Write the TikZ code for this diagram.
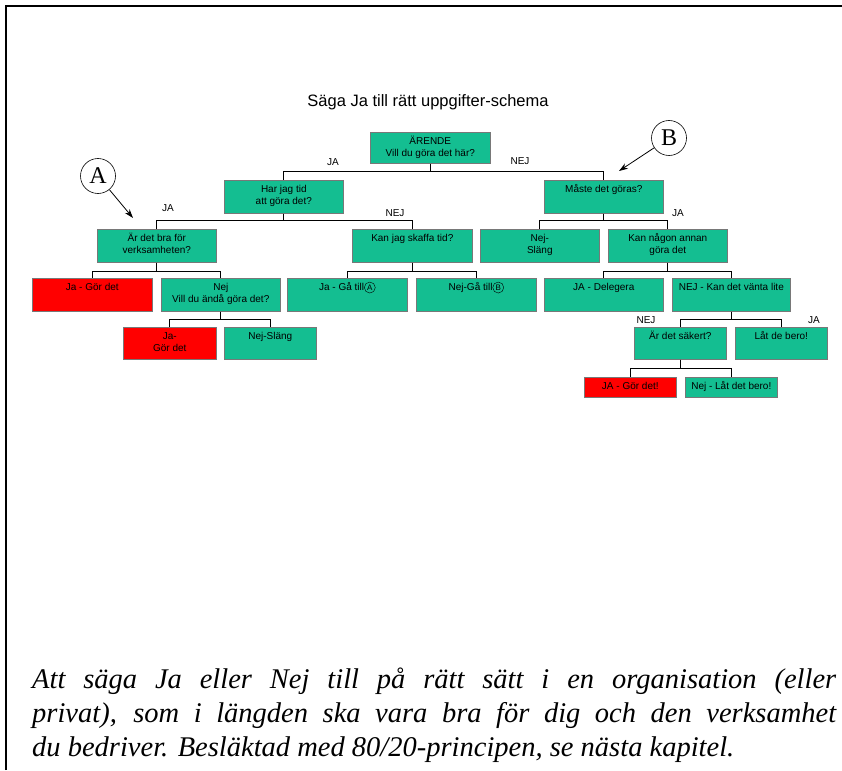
\documentclass[tikz,border=0pt]{standalone}
\usepackage{fontspec}
\setmainfont{Liberation Serif}
\setsansfont{Liberation Sans}
\usetikzlibrary{arrows.meta}

\definecolor{ppgreen}{RGB}{20,190,145}
\definecolor{ppred}{RGB}{255,0,0}
\definecolor{ppline}{RGB}{120,120,120}

% box text: width, height, text (set at the top of the box)
\newcommand{\boxtxt}[3]{\parbox[t][#2][t]{#1}{\centering\rule{0pt}{12pt}#3}}
% small ringed letter inside a box
\newcommand{\ringed}[1]{\tikz[baseline=(rl.base)]\node[draw, circle, minimum size=11pt, inner sep=0pt, font=\sffamily\fontsize{8}{8}\selectfont] (rl) {#1};}

\begin{document}
\begin{tikzpicture}[x=1pt, y=-1pt, font=\sffamily\fontsize{10}{12}\selectfont,
		box/.style={draw=ppline, line width=0.6pt, fill=ppgreen, inner sep=0pt, anchor=north west},
		redbox/.style={box, fill=ppred},
		tree/.style={line width=1pt},
		answer/.style={inner sep=0pt},
		marker/.style={draw, circle, line width=0.6pt, minimum size=35pt, inner sep=0pt, font=\rmfamily\fontsize{24}{24}\selectfont},
		pointer/.style={line width=0.8pt, -{Stealth[length=9pt, width=6pt]}},
		caption/.style={anchor=base west, inner sep=0pt, font=\rmfamily\itshape\fontsize{28.5}{34}\selectfont}]
		\useasboundingbox (0,0) rectangle (842,770);
		\draw[line width=2pt] (6,770) -- (6,6) -- (842,6);

		\node (title) at (428,102) {\fontsize{16.5}{18}\selectfont Säga Ja till rätt uppgifter-schema};

		\node[box] (arende) at (370,132) {\boxtxt{120pt}{31pt}{ÄRENDE\\Vill du göra det här?}};
		\node[box] (hartid) at (224,180) {\boxtxt{119pt}{33pt}{Har jag tid\\att göra det?}};
		\node[box] (maste) at (544,180) {\boxtxt{119pt}{33pt}{Måste det göras?}};
		\node[box] (bra) at (97,229) {\boxtxt{119pt}{33pt}{Är det bra för\\verksamheten?}};
		\node[box] (skaffa) at (352,229) {\boxtxt{120pt}{33pt}{Kan jag skaffa tid?}};
		\node[box] (slang) at (480,229) {\boxtxt{119pt}{33pt}{Nej-\\Släng}};
		\node[box] (annan) at (608,229) {\boxtxt{119pt}{33pt}{Kan någon annan\\göra det}};
		\node[redbox] (gordet) at (32,278) {\boxtxt{120pt}{33pt}{Ja - Gör det}};
		\node[box] (anda) at (161,278) {\boxtxt{119pt}{33pt}{Nej\\Vill du ändå göra det?}};
		\node[box] (tillA) at (287,278) {\boxtxt{120pt}{33pt}{Ja - Gå till\ringed{A}}};
		\node[box] (tillB) at (416,278) {\boxtxt{120pt}{33pt}{Nej-Gå till\ringed{B}}};
		\node[box] (delegera) at (544,278) {\boxtxt{119pt}{33pt}{JA - Delegera}};
		\node[box] (vanta) at (672,278) {\boxtxt{118pt}{33pt}{NEJ - Kan det vänta lite}};
		\node[redbox] (gordetB) at (123,327) {\boxtxt{93pt}{32pt}{Ja-\\Gör det}};
		\node[box] (slangB) at (224,327) {\boxtxt{92pt}{32pt}{Nej-Släng}};
		\node[box] (saker) at (634,327) {\boxtxt{92pt}{32pt}{Är det säkert?}};
		\node[box] (bero) at (735,327) {\boxtxt{92pt}{32pt}{Låt de bero!}};
		\node[redbox] (gordetC) at (584,377) {\boxtxt{92pt}{20pt}{JA - Gör det!}};
		\node[box] (latdet) at (685,377) {\boxtxt{92pt}{20pt}{Nej - Låt det bero!}};

		\draw[tree] (arende.south) -- ++(0,8) -| (hartid.north);
		\draw[tree] (arende.south) -- ++(0,8) -| (maste.north);
		\draw[tree] (hartid.south) -- ++(0,7) -| (bra.north);
		\draw[tree] (hartid.south) -- ++(0,7) -| (skaffa.north);
		\draw[tree] (maste.south) -- ++(0,7) -| (slang.north);
		\draw[tree] (maste.south) -- ++(0,7) -| (annan.north);
		\draw[tree] (bra.south) -- ++(0,9) -| (gordet.north);
		\draw[tree] (bra.south) -- ++(0,9) -| (anda.north);
		\draw[tree] (skaffa.south) -- ++(0,9) -| (tillA.north);
		\draw[tree] (skaffa.south) -- ++(0,9) -| (tillB.north);
		\draw[tree] (annan.south) -- ++(0,9) -| (delegera.north);
		\draw[tree] (annan.south) -- ++(0,9) -| (vanta.north);
		\draw[tree] (anda.south) -- ++(0,8) -| (gordetB.north);
		\draw[tree] (anda.south) -- ++(0,8) -| (slangB.north);
		\draw[tree] (vanta.south) -- ++(0,8) -| (saker.north);
		\draw[tree] (vanta.south) -- ++(0,8) -| (bero.north);
		\draw[tree] (saker.south) -- ++(0,9) -| (gordetC.north);
		\draw[tree] (saker.south) -- ++(0,9) -| (latdet.north);

		% answers on the branches
		\node[answer] (ja1) at (333,162) {JA};
		\node[answer] (nej1) at (520,161) {NEJ};
		\node[answer] (ja2) at (168,208) {JA};
		\node[answer] (nej2) at (395,213) {NEJ};
		\node[answer] (ja3) at (678,213) {JA};
		\node[answer] (nej3) at (646,320) {NEJ};
		\node[answer] (ja4) at (814,320) {JA};

		% markers A and B
		\node[marker] (markA) at (98,176) {A};
		\node[marker] (markB) at (669,138) {B};
		\coordinate (tipA) at (133,218);
		\coordinate (tipB) at (619,171);
		\draw[pointer] (markA) -- (tipA);
		\draw[pointer] (markB) -- (tipB);

		\node[caption] (cap1) at (32,688) {\makebox[804pt][s]{Att säga Ja eller Nej till på rätt sätt i en organisation (eller}};
		\node[caption] (cap2) at (32,722) {\makebox[804pt][s]{privat), som i längden ska vara bra för dig och den verksamhet}};
		\node[caption] (cap3) at (32,756) {du bedriver. Besläktad med 80/20-principen, se nästa kapitel.};
	\end{tikzpicture}
\end{document}
